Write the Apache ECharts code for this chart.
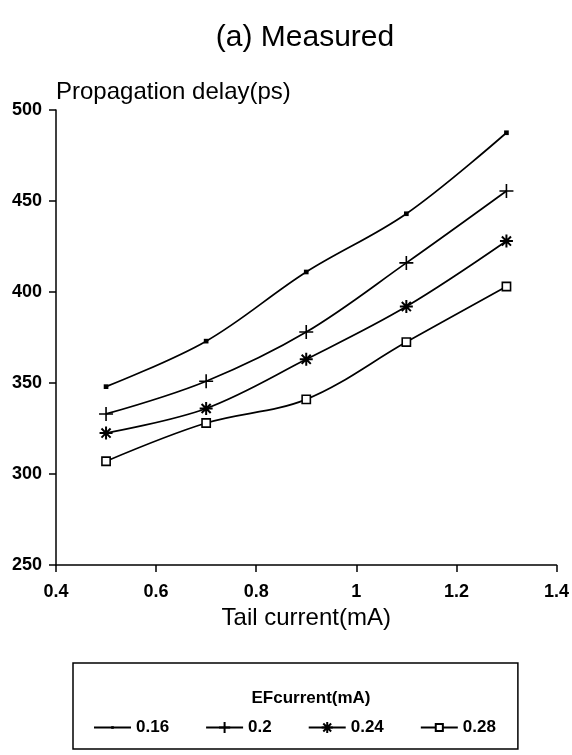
<!DOCTYPE html>
<html>
<head>
<meta charset="utf-8">
<script src="https://cdn.jsdelivr.net/npm/echarts@6/dist/echarts.min.js"></script>
<style>
  html, body { margin: 0; padding: 0; background: #fff; }
  #chart { width: 572px; height: 755px; }
</style>
</head>
<body>
<div id="chart"></div>
<script>
// tail current (mA)
const tailCurrent = [0.5, 0.7, 0.9, 1.1, 1.3]
// propagation delay (ps) per EF current
const ef016 = [348, 373, 411, 443, 487.5]
const ef020 = [333, 351, 378, 416, 455.5]
const ef024 = [322.5, 336, 363, 392, 428]
const ef028 = [307, 328, 341, 372.5, 403]
const seriesNames = ["0.16", "0.2", "0.24", "0.28"]

const font = "'Liberation Sans', Arial, sans-serif"

// marker shapes; the degenerate corner moves only widen the bounding box
const dotPath = "path://M0,0 L0,0 M12,12 L12,12 M4.6,4.6 L7.4,4.6 L7.4,7.4 L4.6,7.4 Z"
const plusPath = "path://M0,6 L12,6 M6,0 L6,12"
const starPath = "path://M6,0 L6,12 M0,6 L12,6 M1.8,1.8 L10.2,10.2 M10.2,1.8 L1.8,10.2"
const boxPath = "path://M0,0 L0,0 M12,12 L12,12 M2.2,2.2 L9.8,2.2 L9.8,9.8 L2.2,9.8 Z"

function pairs(ys) {
  return tailCurrent.map((x, i) => [x, ys[i]])
}

function makeSeries(name, ys, symbol, size, itemStyle) {
  return {
    name: name,
    type: "line",
    smooth: 0.35,
    data: pairs(ys),
    symbol: symbol,
    symbolSize: size,
    showSymbol: true,
    lineStyle: { color: "#000", width: 1.7 },
    itemStyle: itemStyle,
    emphasis: { disabled: true },
    z: 3
  }
}

const chart = echarts.init(document.getElementById("chart"), null, { renderer: "canvas" })

const option = {
  animation: false,
  backgroundColor: "#fff",
  textStyle: { fontFamily: font, color: "#000" },
  title: [
    {
      text: "(a) Measured",
      left: 300,
      top: 18,
      textAlign: "center",
      textStyle: { fontFamily: font, fontSize: 30, fontWeight: "normal", color: "#000" }
    },
    {
      text: "EFcurrent(mA)",
      left: 306,
      top: 685,
      textAlign: "center",
      textStyle: { fontFamily: font, fontSize: 17, fontWeight: "bold", color: "#000" }
    }
  ],
  legend: {
    left: 73,
    top: 663,
    orient: "horizontal",
    data: seriesNames,
    padding: [56, 22, 13, 20],
    itemGap: 36,
    itemWidth: 37,
    itemHeight: 14,
    borderColor: "#000",
    borderWidth: 1.5,
    borderRadius: 0,
    textStyle: { fontFamily: font, fontSize: 17, fontWeight: "bold", color: "#000" }
  },
  grid: {
    left: 56,
    right: 12,
    top: 110,
    bottom: 190,
    containLabel: false
  },
  xAxis: {
    type: "value",
    min: 0.4,
    max: 1.4,
    interval: 0.2,
    name: "Tail current(mA)",
    nameLocation: "middle",
    nameGap: 35,
    nameTextStyle: { fontFamily: font, fontSize: 24, color: "#000" },
    axisLine: { show: true, onZero: false, lineStyle: { color: "#000", width: 1.5 } },
    axisTick: { show: true, inside: false, length: 7, lineStyle: { color: "#000", width: 1.5 } },
    axisLabel: { margin: 18, fontFamily: font, fontSize: 18, fontWeight: "bold", color: "#000" },
    splitLine: { show: false }
  },
  yAxis: {
    type: "value",
    min: 250,
    max: 500,
    interval: 50,
    name: "Propagation delay(ps)",
    nameLocation: "end",
    nameGap: 6,
    nameTextStyle: { fontFamily: font, fontSize: 24, color: "#000", align: "left" },
    axisLine: { show: true, onZero: false, lineStyle: { color: "#000", width: 1.5 } },
    axisTick: { show: true, inside: false, length: 7, lineStyle: { color: "#000", width: 1.5 } },
    axisLabel: { margin: 14, fontFamily: font, fontSize: 18, fontWeight: "bold", color: "#000" },
    splitLine: { show: false }
  },
  series: [
    makeSeries(seriesNames[0], ef016, dotPath, 20, { color: "#000", borderWidth: 0 }),
    makeSeries(seriesNames[1], ef020, plusPath, 14, { color: "none", borderColor: "#000", borderWidth: 1.6 }),
    makeSeries(seriesNames[2], ef024, starPath, 13, { color: "none", borderColor: "#000", borderWidth: 2 }),
    makeSeries(seriesNames[3], ef028, boxPath, 13, { color: "#fff", borderColor: "#000", borderWidth: 1.6 })
  ]
}

chart.setOption(option)
</script>
</body>
</html>
